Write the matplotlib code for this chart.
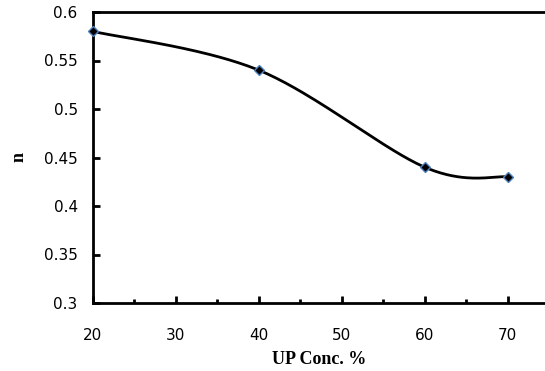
import numpy as np
import matplotlib
matplotlib.use("Agg")
import matplotlib.pyplot as plt
from matplotlib.ticker import MultipleLocator

# data
up_conc = [20, 40, 60, 70]
n_values = [0.58, 0.54, 0.44, 0.43]
y_ticks = [0.3, 0.35, 0.4, 0.45, 0.5, 0.55, 0.6]
y_tick_labels = ["0.3", "0.35", "0.4", "0.45", "0.5", "0.55", "0.6"]
x_ticks = [20, 30, 40, 50, 60, 70]


def excel_smooth(ax, xs, ys, steps=60):
    """Bezier smoothing like a spreadsheet 'smoothed line', done in pixel space."""
    pts = ax.transData.transform(np.column_stack([xs, ys]))
    p = np.vstack([pts[0], pts, pts[-1]])
    out = []
    t = np.linspace(0, 1, steps)[:, None]
    for i in range(1, len(p) - 2):
        p0, p1 = p[i], p[i + 1]
        c1 = p0 + (p[i + 1] - p[i - 1]) / 6.0
        c2 = p1 - (p[i + 2] - p[i]) / 6.0
        seg = ((1 - t) ** 3) * p0 + 3 * ((1 - t) ** 2) * t * c1 \
            + 3 * (1 - t) * t ** 2 * c2 + t ** 3 * p1
        out.append(seg)
    curve = np.vstack(out)
    return ax.transData.inverted().transform(curve)


fig = plt.figure(figsize=(5.45, 3.71), dpi=100)
ax = fig.add_axes([93 / 545, 1 - 303 / 371, 1 - 93 / 545, (303 - 12) / 371])
ax.set_xlim(20, 74.5)
ax.set_ylim(0.3, 0.6)

curve = excel_smooth(ax, up_conc, n_values)
ax.plot(curve[:, 0], curve[:, 1], color="black", lw=2.0, zorder=2)
ax.plot(up_conc, n_values, linestyle="none", marker="D", markersize=5,
        markerfacecolor="black", markeredgecolor="#4F81BD", markeredgewidth=1.0,
        zorder=3, clip_on=False)

for side in ["left", "bottom", "top"]:
    ax.spines[side].set_linewidth(2.0)
ax.spines["right"].set_visible(False)

ax.set_xticks(x_ticks)
ax.xaxis.set_minor_locator(MultipleLocator(5))
ax.set_yticks(y_ticks)
ax.set_yticklabels(y_tick_labels)
ax.tick_params(axis="both", which="major", direction="in", length=5, width=2,
               labelsize=11, pad=11, top=False, right=False)
ax.tick_params(axis="x", which="minor", direction="in", length=3, width=2, top=False)
ax.tick_params(axis="x", which="major", pad=18)
for lab in ax.get_xticklabels() + ax.get_yticklabels():
    lab.set_fontfamily("DejaVu Sans")

ax.set_xlabel("UP Conc. %", fontfamily="Liberation Serif", fontweight="bold",
              fontsize=13, labelpad=6)
ax.set_ylabel("n", fontfamily="Liberation Serif", fontweight="bold",
              fontsize=13, labelpad=12)

fig.savefig("out.png", dpi=100)
